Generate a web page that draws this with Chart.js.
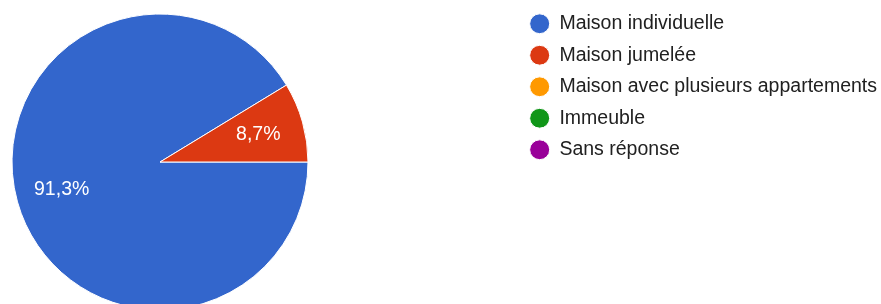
<!DOCTYPE html>
<html>
<head>
<meta charset="utf-8">
<script src="https://cdn.jsdelivr.net/npm/chart.js@4/dist/chart.umd.min.js"></script>
<style>
  html, body { margin: 0; padding: 0; background: #fff; overflow: hidden; }
  #wrap { width: 881px; height: 324px; }
  canvas { display: block; }
</style>
</head>
<body>
<div id="wrap"><canvas id="pieChart" width="881" height="324"></canvas></div>
<script>
/*** Data ***/
const categories = ['Maison individuelle', 'Maison jumelée', 'Maison avec plusieurs appartements', 'Immeuble', 'Sans réponse'];
const answers = [21, 2, 0, 0, 0];
const sliceColors = ['#3366cc', '#dc3912', '#ff9900', '#109618', '#990099'];

/*** Font ***/
Chart.defaults.font.family = '"Liberation Sans", Arial, sans-serif';

/*** Keep the pie area square, on the left ***/
const squareArea = {
    id: 'squareArea',
    afterLayout: function (chart) {
        const a = chart.chartArea;
        a.right = a.left + a.height;
        a.width = a.height;
    }
};

/*** Percent labels inside slices ***/
const sliceLabels = {
    id: 'sliceLabels',
    afterDatasetsDraw: function (chart) {
        const ctx = chart.ctx;
        const values = chart.data.datasets[0].data;
        const total = values.reduce((s, v) => s + v, 0);
        const meta = chart.getDatasetMeta(0);
        ctx.save();
        ctx.fillStyle = '#ffffff';
        ctx.font = '19.5px "Liberation Sans", Arial, sans-serif';
        ctx.textAlign = 'center';
        ctx.textBaseline = 'middle';
        meta.data.forEach(function (arc, i) {
            if (!values[i]) return;
            const p = arc.getProps(['x', 'y', 'startAngle', 'endAngle', 'outerRadius'], true);
            const mid = (p.startAngle + p.endAngle) / 2;
            const r = p.outerRadius * 0.69;
            const text = (values[i] / total * 100).toFixed(1).replace('.', ',') + '%';
            ctx.fillText(text, p.x + Math.cos(mid) * r, p.y + Math.sin(mid) * r);
        });
        ctx.restore();
    }
};

const pieChart = new Chart(document.getElementById('pieChart'), {
    type: 'pie',
    data: {
        labels: categories,
        datasets: [
            {
                data: answers,
                backgroundColor: sliceColors,
                borderColor: '#ffffff',
                borderWidth: 1
            }
        ]
    },
    options: {
        responsive: false,
        animation: false,
        rotation: 90,
        radius: 148,
        layout: {
            padding: { top: 2, bottom: 2, left: 0, right: -6 }
        },
        plugins: {
            tooltip: { enabled: false },
            legend: {
                position: 'right',
                align: 'start',
                labels: {
                    usePointStyle: true,
                    pointStyle: 'circle',
                    boxHeight: 14,
                    pointStyleWidth: 20,
                    padding: 12,
                    color: '#212121',
                    font: { size: 19.5 }
                }
            }
        }
    },
    plugins: [squareArea, sliceLabels]
});
</script>
</body>
</html>
